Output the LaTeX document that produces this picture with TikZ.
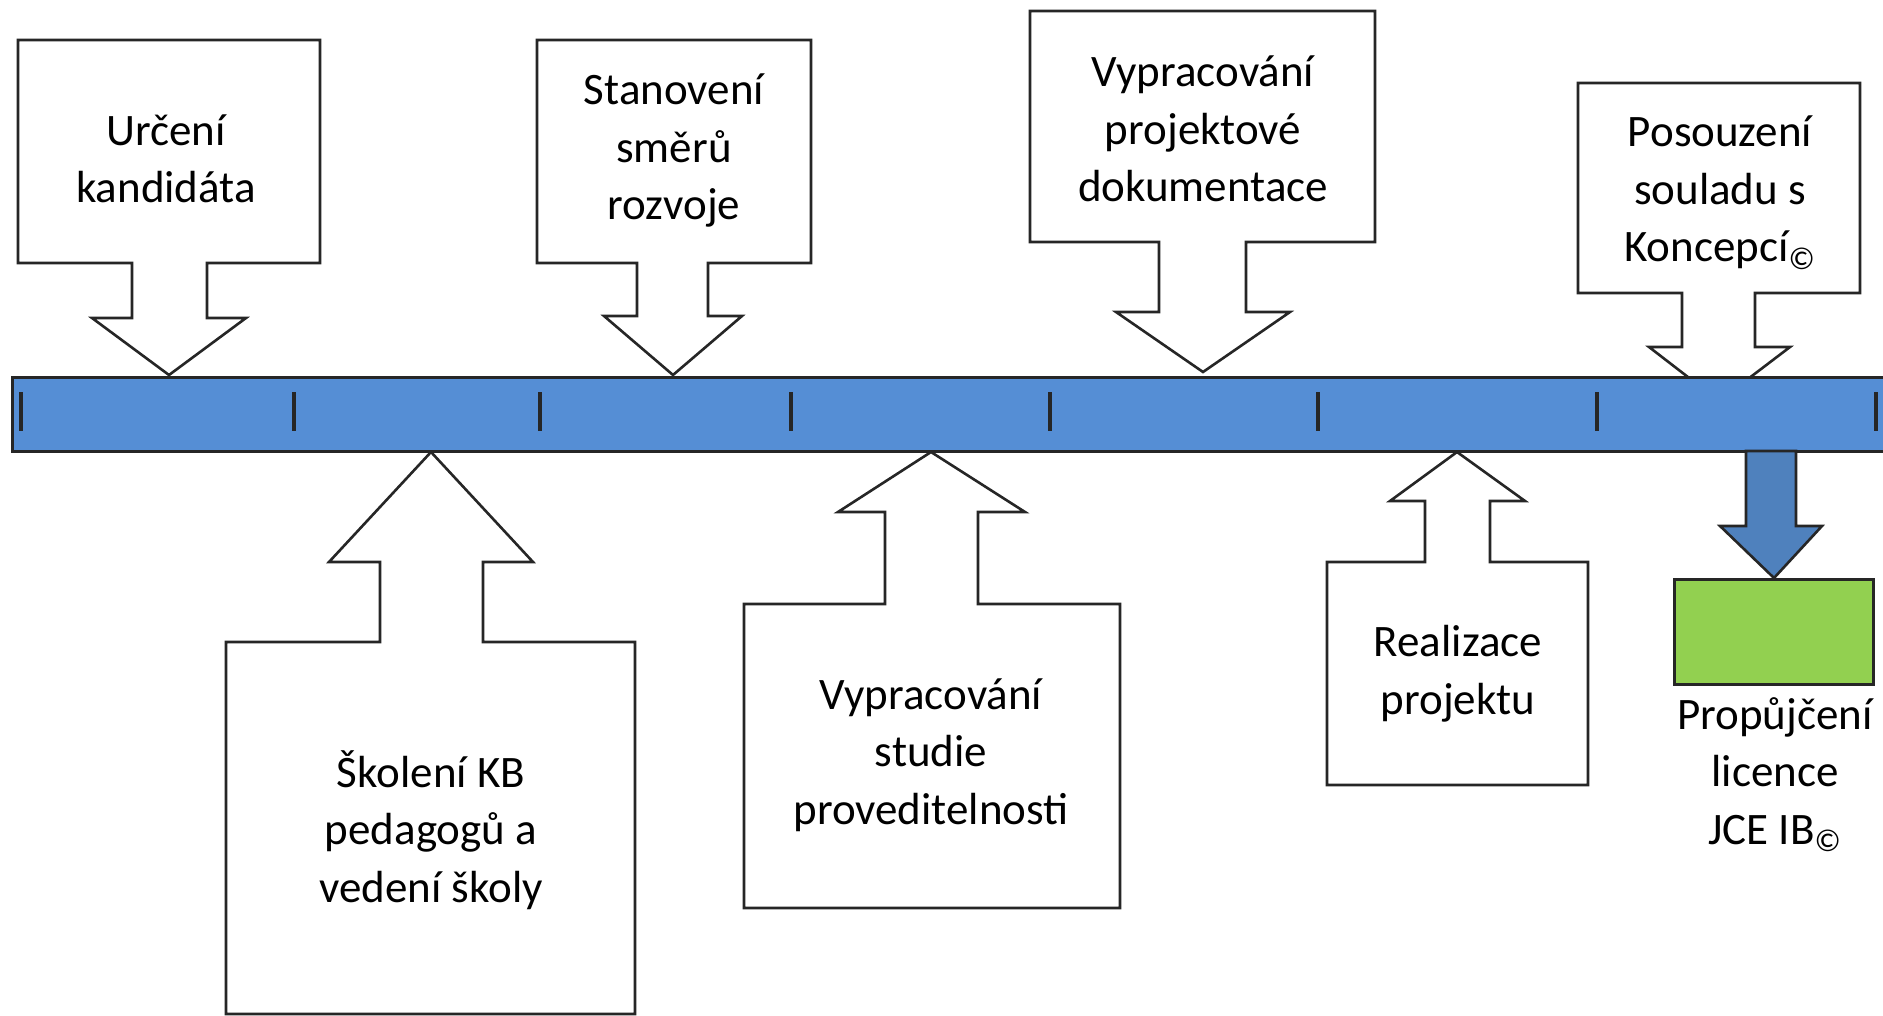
\documentclass[tikz,border=0pt]{standalone}
\usepackage{fontspec}
\setmainfont{Carlito}
\definecolor{barblue}{RGB}{85,142,213}
\definecolor{arrblue}{RGB}{79,129,189}
\definecolor{licgreen}{RGB}{146,208,80}
\begin{document}
\begin{tikzpicture}[x=0.5pt,y=-0.5pt,
    callout/.style={draw=black!85, line width=1.3pt, fill=white, line join=miter},
    lbl/.style={anchor=base, inner sep=0pt, align=center, font=\fontsize{22.5}{28.75}\selectfont}]
\useasboundingbox (0,0) rectangle (1883,1016);
\begin{scope}
\clip (0,0) rectangle (1883,1016);

% callouts above the timeline
\draw[callout] (132,263) -- (18,263) -- (18,40) -- (320,40) -- (320,263) -- (207,263) -- (207,318)
    -- (246,318) -- (169,375) -- (92,318) -- (132,318) -- cycle;
\draw[callout] (637,263) -- (537,263) -- (537,40) -- (811,40) -- (811,263) -- (708,263) -- (708,316)
    -- (742,316) -- (673,375) -- (604,316) -- (637,316) -- cycle;
\draw[callout] (1159,242) -- (1030,242) -- (1030,11) -- (1375,11) -- (1375,242) -- (1246,242) -- (1246,312)
    -- (1290,312) -- (1203,372) -- (1116,312) -- (1159,312) -- cycle;
\draw[callout] (1682,293) -- (1578,293) -- (1578,83) -- (1860,83) -- (1860,293) -- (1755,293) -- (1755,347)
    -- (1790,347) -- (1719,401) -- (1649,347) -- (1682,347) -- cycle;

% timeline
\draw[fill=barblue, draw=black!85, line width=1.5pt] (12,377) rectangle (1900,451);
\foreach \x in {21,294,540,791,1050,1318,1597,1876}
    \draw[line width=1.6pt, black!85] (\x,392) -- (\x,431);

% callouts below the timeline
\draw[callout] (380,642) -- (226,642) -- (226,1014) -- (635,1014) -- (635,642) -- (483,642) -- (483,562)
    -- (533,562) -- (431,452) -- (329,562) -- (380,562) -- cycle;
\draw[callout] (885,604) -- (744,604) -- (744,908) -- (1120,908) -- (1120,604) -- (978,604) -- (978,512)
    -- (1025,512) -- (931,452) -- (838,512) -- (885,512) -- cycle;
\draw[callout] (1425,562) -- (1327,562) -- (1327,785) -- (1588,785) -- (1588,562) -- (1490,562) -- (1490,501)
    -- (1525,501) -- (1457,452) -- (1390,501) -- (1425,501) -- cycle;

% licence
\node[draw=black!85, fill=licgreen, line width=1.3pt, minimum width=99.5pt, minimum height=52.5pt,
    inner sep=0pt, anchor=north] (licbox) at (1774,578) {};
\draw[fill=arrblue, draw=black!85, line width=1.3pt] (1746,451) -- (1746,526) -- (1720,526)
    -- (licbox.north) -- (1822,526) -- (1796,526) -- (1796,451) -- cycle;

% texts (anchored at the last line)
\node[lbl] (urceni) at (166,203) {Určení\\kandidáta};
\node[lbl] (stanoveni) at (674,220) {Stanovení\\směrů\\rozvoje};
\node[lbl] (dokumentace) at (1203,202) {Vypracování\\projektové\\dokumentace};
\node[lbl] (posouzeni) at (1720,262) {Posouzení\\souladu s\\Koncepcí\textsubscript{©}};
\node[lbl] (skoleni) at (431,902) {Školení KB\\pedagogů a\\vedení školy};
\node[lbl] (studie) at (931,824) {Vypracování\\studie\\proveditelnosti};
\node[lbl] (realizace) at (1458,714) {Realizace\\projektu};
\node[lbl] (propujceni) at (1775,844) {Propůjčení\\licence\\JCE IB\textsubscript{©}};
\end{scope}
\end{tikzpicture}
\end{document}
